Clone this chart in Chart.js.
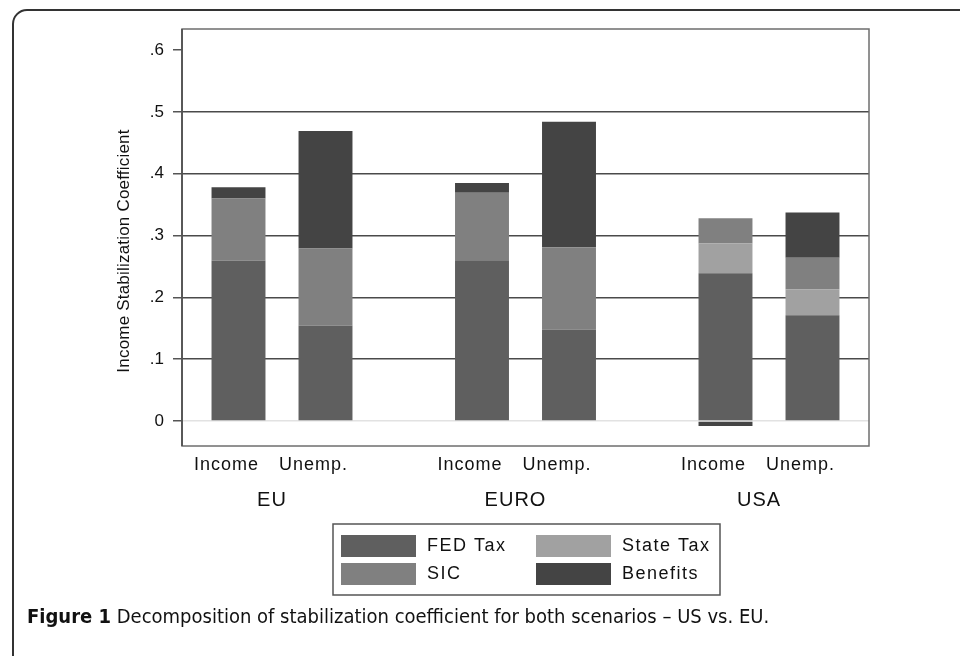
<!DOCTYPE html>
<html>
<head>
<meta charset="utf-8">
<script src="https://cdn.jsdelivr.net/npm/chart.js@4"></script>
<style>
  html, body { margin: 0; padding: 0; background: #fff; overflow: hidden; }
  .frame {
    position: absolute; left: 12px; top: 9px; width: 1000px; height: 700px;
    border: 2px solid #333; border-radius: 15px; box-sizing: border-box;
  }
  .wrap { position: absolute; left: 0; top: 0; width: 960px; height: 656px; }
  .caption {
    position: absolute; left: 27px; top: 604px; white-space: nowrap;
    font-family: "DejaVu Sans Condensed", "Liberation Sans", sans-serif;
    font-stretch: condensed;
    font-size: 20px; color: #111;
  }
  .caption b { font-weight: bold; }
</style>
</head>
<body>
<div class="frame"></div>
<div class="wrap"><canvas id="chart"></canvas></div>
<div class="caption"><b>Figure 1</b> Decomposition of stabilization coefficient for both scenarios – US vs. EU.</div>
<script>
// data
const groups = ["EU", "EURO", "USA"];
const stacks = ["Income", "Unemp."];
const seriesNames = ["FED Tax", "State Tax", "SIC", "Benefits"];
const seriesColors = ["#5f5f5f", "#a1a1a1", "#808080", "#444444"];

const fedIncome = [0.259, 0.260, 0.239];
const fedUnemp = [0.154, 0.148, 0.171];
const stateIncome = [0, 0, 0.048];
const stateUnemp = [0, 0, 0.042];
const sicIncome = [0.101, 0.109, 0.041];
const sicUnemp = [0.125, 0.133, 0.051];
const benIncome = [0.018, 0.016, -0.008];
const benUnemp = [0.190, 0.203, 0.073];

const yTicks = [0, 0.1, 0.2, 0.3, 0.4, 0.5, 0.6];
const yTitle = "Income Stabilization Coefficient";

const values = {
  Income: [fedIncome, stateIncome, sicIncome, benIncome],
  "Unemp.": [fedUnemp, stateUnemp, sicUnemp, benUnemp],
};

const datasets = [];
stacks.forEach((stack) => {
  seriesNames.forEach((name, i) => {
    datasets.push({
      label: name,
      stack: stack,
      backgroundColor: seriesColors[i],
      borderWidth: 0,
      data: groups.map((g, j) => ({ x: j, y: values[stack][i][j] })),
    });
  });
});

const FONT = "'Liberation Sans', Arial, sans-serif";

/* custom drawing: frame, labels, legend */
const decor = {
  id: "decor",
  afterDraw(chart) {
    const { ctx, chartArea: a } = chart;
    ctx.save();

    // plot frame
    ctx.strokeStyle = "#6e6e6e";
    ctx.lineWidth = 1.5;
    ctx.strokeRect(a.left, a.top, a.right - a.left, a.bottom - a.top);
    ctx.strokeStyle = "#505050";
    ctx.lineWidth = 1.7;
    ctx.beginPath();
    ctx.moveTo(a.left, a.top);
    ctx.lineTo(a.left, a.bottom);
    ctx.stroke();

    ctx.fillStyle = "#111";
    ctx.textBaseline = "middle";
    ctx.textAlign = "center";

    // y title
    ctx.save();
    ctx.font = "17px " + FONT;
    ctx.letterSpacing = "0.2px";
    ctx.translate(124, 251);
    ctx.rotate(-Math.PI / 2);
    ctx.fillText(yTitle, 0, 0);
    ctx.restore();

    // stack labels under each bar
    ctx.font = "18px " + FONT;
    ctx.letterSpacing = "1px";
    stacks.forEach((s, k) => {
      const meta = chart.getDatasetMeta(k * seriesNames.length);
      meta.data.forEach((bar) => ctx.fillText(s, bar.x - 12, 465));
    });

    // group labels
    ctx.font = "20px " + FONT;
    const xs = chart.scales.x;
    groups.forEach((g, j) => ctx.fillText(g, xs.getPixelForValue(j) - 10, 500));

    // legend
    const lx = 333, ly = 524, lw = 387, lh = 71;
    ctx.strokeStyle = "#555";
    ctx.lineWidth = 1.5;
    ctx.strokeRect(lx, ly, lw, lh);
    ctx.font = "18px " + FONT;
    ctx.letterSpacing = "1.5px";
    ctx.textAlign = "left";
    seriesNames.forEach((name, i) => {
      const col = i % 2, row = Math.floor(i / 2);
      const sx = col ? 536 : 341;
      const sy = row ? 563 : 535;
      ctx.fillStyle = seriesColors[i];
      ctx.fillRect(sx, sy, 75, 22);
      ctx.fillStyle = "#111";
      ctx.fillText(name, sx + 86, sy + 11);
    });

    ctx.restore();
  },
};

new Chart(document.getElementById("chart"), {
  type: "bar",
  data: { datasets: datasets },
  options: {
    responsive: true,
    maintainAspectRatio: false,
    animation: false,
    layout: { padding: { left: 0, top: 29, right: 91, bottom: 210 } },
    datasets: { bar: { categoryPercentage: 0.7146, barPercentage: 0.62 } },
    plugins: { legend: { display: false }, tooltip: { enabled: false } },
    scales: {
      x: {
        type: "linear",
        offset: false,
        min: -0.4107,
        max: 2.4107,
        afterBuildTicks: (s) => { s.ticks = groups.map((g, j) => ({ value: j })); },
        afterFit: (s) => { s.height = 0; },
        ticks: { display: false },
        grid: { display: false, offset: false },
        border: { display: false },
      },
      y: {
        stacked: true,
        min: -0.0405,
        max: 0.634,
        afterBuildTicks: (s) => { s.ticks = yTicks.map((v) => ({ value: v })); },
        afterFit: (s) => { s.width = 182; },
        ticks: {
          padding: 9,
          color: "#111",
          font: { family: FONT, size: 17 },
          callback: (v) => (v === 0 ? "0" : v.toFixed(1).replace(/^0/, "")),
        },
        grid: {
          color: (c) => (c.tick.value === 0 ? "#e2e2e2" : c.tick.value > 0.55 ? "rgba(0,0,0,0)" : "#4a4a4a"),
          lineWidth: 1.5,
          tickLength: 9,
          tickColor: "#555",
          tickWidth: 1.5,
        },
        border: { display: false },
      },
    },
  },
  plugins: [decor],
});
</script>
</body>
</html>
